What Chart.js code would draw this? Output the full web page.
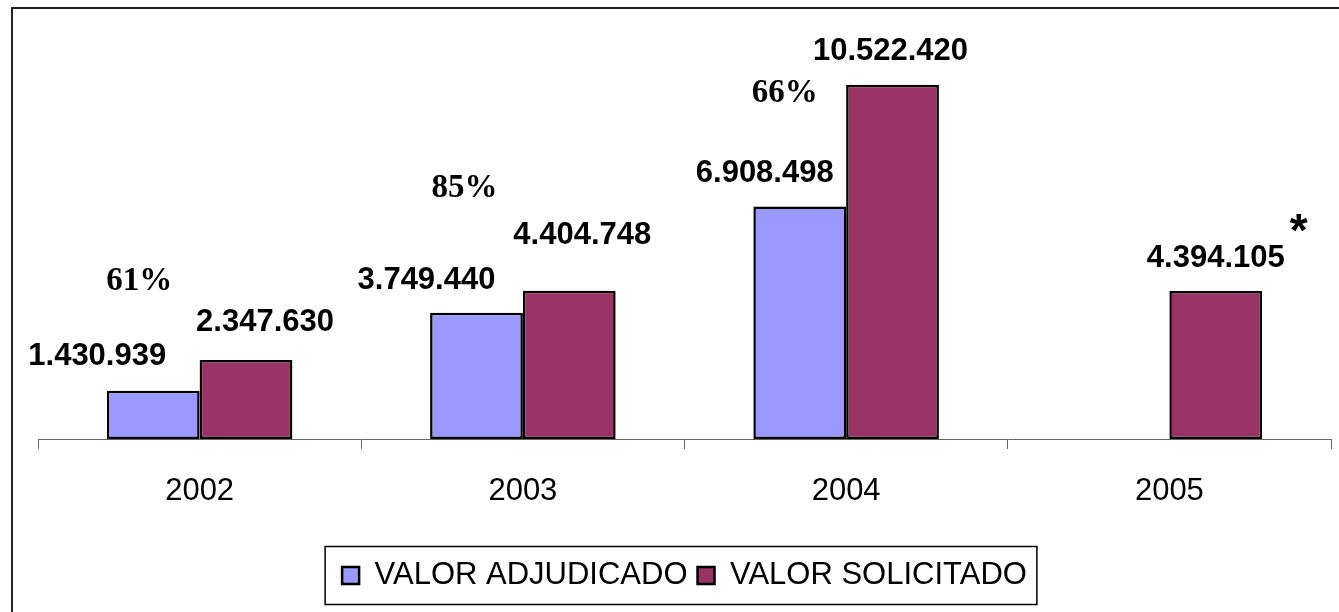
<!DOCTYPE html>
<html>
<head>
<meta charset="utf-8">
<script src="https://cdn.jsdelivr.net/npm/chart.js@4"></script>
<style>
  html, body { margin: 0; padding: 0; background: #fff; }
  #wrap { width: 1339px; height: 612px; position: relative; }
</style>
</head>
<body>
<div id="wrap"><canvas id="myChart"></canvas></div>
<script>
    // datos
    const years = ['2002', '2003', '2004', '2005'];
    const valorAdjudicado = [1430939, 3749440, 6908498, null];
    const valorSolicitado = [2347630, 4404748, 10522420, 4394105];
    const porcentajes = ['61%', '85%', '66%', null];

    // desplazamiento de las etiquetas respecto a la barra (px)
    const offsetsAdj = [[-56, -34], [-50, -32], [-35, -33], [0, 0]];
    const offsetsSol = [[19, -38], [13, -55], [-2, -33], [0, -33]];
    const offsetsPct = [[-14, -109], [-12, -124], [-15, -113]];

    const fmt = v => String(v).replace(/\B(?=(\d{3})+(?!\d))/g, '.');

    const marcoPlugin = {
        id: 'marco',
        beforeDraw(chart) {
            const c = chart.ctx;
            c.save();
            c.fillStyle = '#fff';
            c.fillRect(0, 0, chart.width, chart.height);
            c.restore();
        },
        afterDraw(chart) {
            const c = chart.ctx;
            c.save();
            // marco exterior
            c.strokeStyle = '#222';
            c.lineWidth = 2;
            c.strokeRect(12, 8, chart.width + 20, chart.height + 20);

            // recuadro de la leyenda
            const boxes = chart.legend.legendHitBoxes;
            if (boxes && boxes.length) {
                const first = boxes[0], last = boxes[boxes.length - 1];
                const cy = first.top + first.height / 2;
                c.lineWidth = 1.5;
                c.strokeStyle = '#000';
                c.strokeRect(first.left - 17, cy - 29, last.left + last.width + 10 - (first.left - 17), 58);
            }

            // etiquetas de valores
            c.fillStyle = '#000';
            c.textAlign = 'center';
            c.textBaseline = 'middle';
            c.font = 'bold 31px "Liberation Sans", Arial, sans-serif';
            const metaA = chart.getDatasetMeta(0).data;
            const metaS = chart.getDatasetMeta(1).data;
            valorAdjudicado.forEach((v, i) => {
                if (v == null) return;
                const b = metaA[i];
                c.fillText(fmt(v), b.x + offsetsAdj[i][0], b.y + offsetsAdj[i][1]);
            });
            valorSolicitado.forEach((v, i) => {
                if (v == null) return;
                const b = metaS[i];
                c.fillText(fmt(v), b.x + offsetsSol[i][0], b.y + offsetsSol[i][1]);
            });

            // porcentajes
            c.font = 'bold 33px "Liberation Serif", "Times New Roman", serif';
            porcentajes.forEach((p, i) => {
                if (!p) return;
                const b = metaA[i];
                c.fillText(p, b.x + offsetsPct[i][0], b.y + offsetsPct[i][1]);
            });

            // asterisco 2005
            const b5 = metaS[3];
            c.font = 'bold 46px "Liberation Sans", Arial, sans-serif';
            c.fillText('*', b5.x + 83, b5.y - 58);
            c.restore();
        }
    };

    const ctx = document.getElementById('myChart').getContext('2d');
    new Chart(ctx, {
        type: 'bar',
        data: {
            labels: years,
            datasets: [
                {
                    label: 'VALOR ADJUDICADO',
                    data: valorAdjudicado,
                    backgroundColor: '#9999FF',
                    borderColor: '#000',
                    borderWidth: 2.5,
                    borderSkipped: false
                },
                {
                    label: 'VALOR SOLICITADO',
                    data: valorSolicitado,
                    backgroundColor: '#993366',
                    borderColor: '#000',
                    borderWidth: 2.5,
                    borderSkipped: false
                }
            ]
        },
        options: {
            responsive: true,
            maintainAspectRatio: false,
            animation: false,
            categoryPercentage: 0.574,
            barPercentage: 1,
            layout: { padding: { left: 38, right: 8, top: 35, bottom: 11 } },
            plugins: {
                tooltip: { enabled: false },
                legend: {
                    position: 'bottom',
                    labels: {
                        boxWidth: 17,
                        boxHeight: 17,
                        padding: 10,
                        color: '#000',
                        font: { family: '"Liberation Sans", Arial, sans-serif', size: 31 }
                    }
                }
            },
            scales: {
                x: {
                    grid: {
                        display: true,
                        drawOnChartArea: false,
                        offset: true,
                        tickLength: 10,
                        color: '#666'
                    },
                    border: { display: true, color: '#666', width: 1 },
                    ticks: {
                        padding: 24,
                        color: '#000',
                        font: { family: '"Liberation Sans", Arial, sans-serif', size: 31 }
                    },
                    afterFit: s => { s.height = 111; }
                },
                y: {
                    display: false,
                    min: 0,
                    max: 12000000
                }
            }
        },
        plugins: [marcoPlugin]
    });
</script>
</body>
</html>
